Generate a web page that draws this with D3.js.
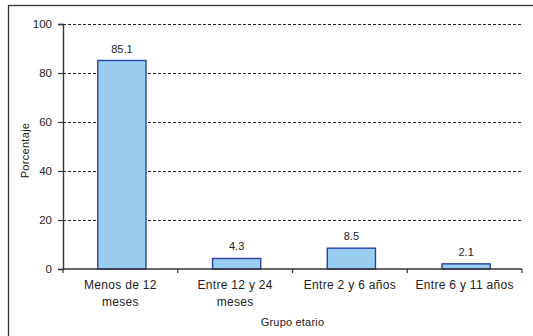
<!DOCTYPE html>
<html>
<head>
<meta charset="utf-8">
<script src="https://cdn.jsdelivr.net/npm/d3@7"></script>
<style>
  html, body { margin: 0; padding: 0; background: #fff; }
  svg { display: block; font-family: "Liberation Sans", Arial, sans-serif; }
</style>
</head>
<body>
<svg id="chart" width="533" height="336"></svg>
<script>
// Age groups and share of cases (%)
const categories = [["Menos de 12", "meses"], ["Entre 12 y 24", "meses"], ["Entre 2 y 6 años"], ["Entre 6 y 11 años"]];
const values = [85.1, 4.3, 8.5, 2.1];
const yTicks = [0, 20, 40, 60, 80, 100];

const svg = d3.select("#chart");
const W = 533, H = 336;
const m = { left: 63, right: 11, top: 24, bottom: 67 };

// outer frame (extends past the visible area on the right and bottom)
svg.append("rect")
  .attr("x", 8.5).attr("y", 5.5)
  .attr("width", 600).attr("height", 400)
  .attr("fill", "none").attr("stroke", "#333").attr("stroke-width", 1.3);

const x = d3.scaleBand()
  .domain(d3.range(values.length))
  .range([m.left + 1.5, W - m.right + 1.5])
  .paddingInner(0.58).paddingOuter(0.29);

const y = d3.scaleLinear().domain([0, 100]).range([H - m.bottom, m.top]);

const g = svg.append("g");

// dashed gridlines
g.selectAll("line.grid")
  .data(yTicks.filter(d => d > 0))
  .join("line")
  .attr("class", "grid")
  .attr("x1", m.left).attr("x2", W - m.right)
  .attr("y1", d => Math.round(y(d)) + 0.5).attr("y2", d => Math.round(y(d)) + 0.5)
  .attr("stroke", "#222").attr("stroke-width", 1)
  .attr("stroke-dasharray", "3,2");

// bars
g.selectAll("rect.bar")
  .data(values)
  .join("rect")
  .attr("class", "bar")
  .attr("x", (d, i) => x(i))
  .attr("width", x.bandwidth())
  .attr("y", d => y(d))
  .attr("height", d => y(0) - y(d))
  .attr("fill", "#99cdf1")
  .attr("stroke", "#2a40a6")
  .attr("stroke-width", 1.4);

// value labels
g.selectAll("text.val")
  .data(values)
  .join("text")
  .attr("class", "val")
  .attr("x", (d, i) => x(i) + x.bandwidth() / 2)
  .attr("y", d => y(d) - 8)
  .attr("text-anchor", "middle")
  .attr("font-size", 11)
  .attr("fill", "#222")
  .text(d => d.toFixed(1));

// y axis
const yAxis = d3.axisLeft(y).tickValues(yTicks).tickSize(5).tickPadding(6);
const ya = svg.append("g").attr("transform", `translate(${m.left},0)`).call(yAxis);
ya.select(".domain").attr("stroke", "#333").attr("stroke-width", 1.4);
ya.selectAll(".tick line").attr("stroke", "#333").attr("stroke-width", 1.2);
ya.selectAll(".tick text").attr("font-size", 11.5).attr("fill", "#222")
  .attr("font-family", "Liberation Sans, Arial, sans-serif");

// x axis: boundary ticks between categories
const step = (W - m.right - m.left) / values.length;
const xEdges = d3.range(values.length + 1).map(i => m.left + i * step);
svg.append("line")
  .attr("x1", m.left).attr("x2", W - m.right)
  .attr("y1", y(0)).attr("y2", y(0))
  .attr("stroke", "#333").attr("stroke-width", 1.6);
svg.selectAll("line.xt")
  .data(xEdges)
  .join("line")
  .attr("class", "xt")
  .attr("x1", d => d).attr("x2", d => d)
  .attr("y1", y(0)).attr("y2", y(0) + 4)
  .attr("stroke", "#333").attr("stroke-width", 1.2);

// category labels
const cl = svg.selectAll("text.cat")
  .data(categories)
  .join("text")
  .attr("class", "cat")
  .attr("text-anchor", "middle")
  .attr("font-size", 12)
  .attr("letter-spacing", 0.3)
  .attr("fill", "#222");
cl.each(function (lines, i) {
  const t = d3.select(this);
  lines.forEach((ln, k) => {
    t.append("tspan")
      .attr("x", m.left + (i + 0.5) * step)
      .attr("y", y(0) + 20 + k * 17)
      .text(ln);
  });
});

// axis titles
svg.append("text")
  .attr("x", (m.left + W - m.right) / 2)
  .attr("y", 326)
  .attr("text-anchor", "middle")
  .attr("font-size", 11)
  .attr("letter-spacing", 0.2)
  .attr("fill", "#222")
  .text("Grupo etario");

svg.append("text")
  .attr("transform", `translate(29,${(y(0) + y(100)) / 2 + 4}) rotate(-90)`)
  .attr("text-anchor", "middle")
  .attr("font-size", 11)
  .attr("letter-spacing", 0.3)
  .attr("fill", "#222")
  .text("Porcentaje");
</script>
</body>
</html>
